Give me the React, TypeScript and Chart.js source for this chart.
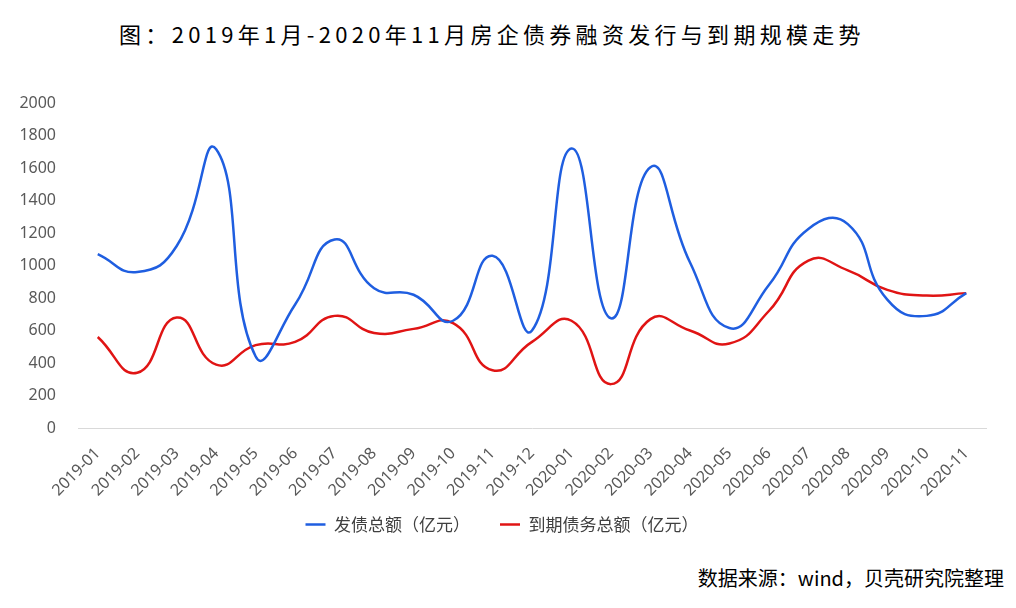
import React, { useEffect, useRef } from "react";
import { Chart, registerables } from "chart.js";

Chart.register(...registerables);

const categories = [
  "2019-01", "2019-02", "2019-03", "2019-04", "2019-05", "2019-06",
  "2019-07", "2019-08", "2019-09", "2019-10", "2019-11", "2019-12",
  "2020-01", "2020-02", "2020-03", "2020-04", "2020-05", "2020-06",
  "2020-07", "2020-08", "2020-09", "2020-10", "2020-11",
];

const issuance = [
  1070, 960, 1120, 1715, 440, 760, 1160, 860, 820, 660, 1060, 600,
  1720, 675, 1605, 1020, 615, 880, 1225, 1255, 790, 690, 830,
];

const maturity = [
  560, 340, 680, 390, 510, 530, 690, 585, 610, 645, 355, 530,
  660, 270, 670, 600, 520, 720, 1030, 970, 850, 815, 830,
];

const yTicks = [0, 200, 400, 600, 800, 1000, 1200, 1400, 1600, 1800, 2000];

const titleText = "图：2019年1月-2020年11月房企债券融资发行与到期规模走势";
const sourceText = "数据来源：wind，贝壳研究院整理";
const seriesNames = ["发债总额（亿元）", "到期债务总额（亿元）"];

const FONT = "'Noto Sans CJK SC', 'Noto Sans', sans-serif";
const NUM_FONT = "'Noto Sans', 'Noto Sans CJK SC', sans-serif";

const LEGEND_PAD = 30;
const LEGEND_VPAD = 10;
const LEGEND_SHIFT_X = 9;

// keeps the wide horizontal gap between legend items but a compact vertical padding
const legendGap = {
  id: "legendGap",
  beforeLayout(chart: any) {
    const lg = chart.legend;
    if (!lg || lg._gapPatched) return;
    lg._gapPatched = true;
    const shift = LEGEND_PAD - LEGEND_VPAD;
    const origFit = lg.fit.bind(lg);
    lg.fit = function () {
      origFit();
      this.height -= shift;
    };
    const origDraw = lg.draw.bind(lg);
    lg.draw = function (area: any) {
      const t = this.top;
      const l = this.left;
      const r = this.right;
      this.top = t - shift;
      this.left = l + LEGEND_SHIFT_X;
      this.right = r + LEGEND_SHIFT_X;
      origDraw(area);
      this.top = t;
      this.left = l;
      this.right = r;
    };
  },
};

export default function App() {
  const ref = useRef<HTMLCanvasElement | null>(null);

  useEffect(() => {
    if (!ref.current) return;
    const chart = new Chart(ref.current, {
      type: "line",
      data: {
        labels: categories,
        datasets: [
          {
            label: seriesNames[0],
            data: issuance,
            borderColor: "#1f5ee0",
            backgroundColor: "#1f5ee0",
            borderWidth: 2.5,
            pointRadius: 0,
            tension: 0.5,
            fill: false,
          },
          {
            label: seriesNames[1],
            data: maturity,
            borderColor: "#e01414",
            backgroundColor: "#e01414",
            borderWidth: 2.5,
            pointRadius: 0,
            tension: 0.5,
            fill: false,
          },
        ],
      },
      plugins: [legendGap],
      options: {
        animation: false,
        responsive: false,
        maintainAspectRatio: false,
        layout: { padding: { left: 0, right: 30, top: 43, bottom: 0 } },
        plugins: {
          title: { display: false },
          tooltip: { enabled: false },
          legend: {
            display: true,
            position: "bottom",
            labels: {
              usePointStyle: true,
              pointStyle: "line",
              pointStyleWidth: 20,
              boxHeight: 3,
              padding: LEGEND_PAD,
              color: "#404040",
              font: { family: FONT, size: 17 },
            },
          },
        },
        scales: {
          x: {
            offset: true,
            grid: { display: false, drawTicks: false },
            border: { display: true, color: "#d9d9d9", width: 1 },
            ticks: {
              color: "#595959",
              font: { family: NUM_FONT, size: 16 },
              minRotation: 45,
              maxRotation: 45,
              autoSkip: false,
              padding: 16,
            },
            afterFit: (scale: any) => {
              scale.height = 78;
            },
          },
          y: {
            min: 0,
            max: 2000,
            afterBuildTicks: (scale: any) => {
              scale.ticks = yTicks.map((v) => ({ value: v }));
            },
            grid: { display: false, drawTicks: false },
            border: { display: false },
            ticks: {
              color: "#595959",
              font: { family: NUM_FONT, size: 16 },
              padding: 22,
              callback: (v: any) => String(v),
            },
            afterFit: (scale: any) => {
              scale.width = 78;
            },
          },
        },
      },
    });
    return () => chart.destroy();
  }, []);

  return (
    <div style={{ position: "absolute", left: 0, top: 0, width: 1016, height: 608, background: "#fff", overflow: "hidden" }}>
      <div
        style={{
          position: "absolute",
          left: 0,
          top: 17,
          width: 984,
          textAlign: "center",
          fontFamily: FONT,
          fontSize: 22,
          letterSpacing: "4.3px",
          color: "#000",
          lineHeight: "32px",
          whiteSpace: "nowrap",
        }}
      >
        {titleText}
      </div>
      <canvas ref={ref} width={1016} height={483} style={{ position: "absolute", left: 0, top: 60, width: 1016, height: 483 }} />
      <div
        style={{
          position: "absolute",
          right: 12,
          top: 563,
          fontFamily: FONT,
          fontSize: 20,
          color: "#000",
          lineHeight: "30px",
          whiteSpace: "nowrap",
        }}
      >
        {sourceText}
      </div>
    </div>
  );
}
